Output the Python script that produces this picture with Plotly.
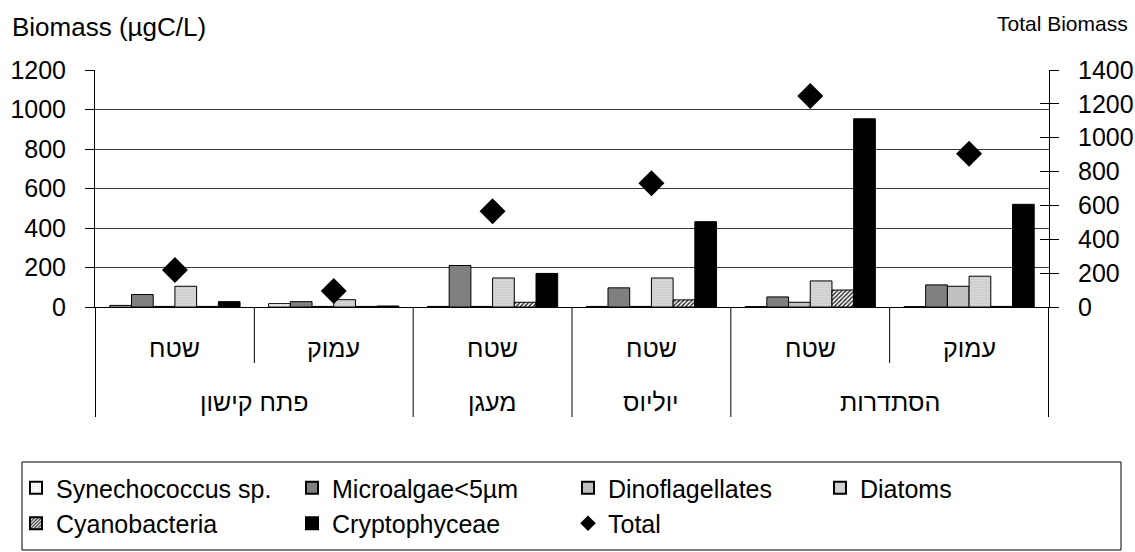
import plotly.graph_objects as go

# Sampling sites (lower label row) and depth of each sample (upper label row)
sites = ["פתח קישון", "פתח קישון", "מעגן", "יוליוס", "הסתדרות", "הסתדרות"]
depths = ["שטח", "עמוק", "שטח", "שטח", "שטח", "עמוק"]

# Biomass per sample, µgC/L
synechococcus = [8, 17, 3, 3, 2, 2]
microalgae = [63, 27, 210, 97, 51, 112]
dinoflagellates = [3, 3, 3, 3, 24, 105]
diatoms = [105, 37, 147, 147, 132, 156]
cyanobacteria = [3, 3, 24, 36, 86, 3]
cryptophyceae = [27, 5, 170, 432, 953, 520]
total = [218, 95, 565, 731, 1246, 906]

left_ticks = [0, 200, 400, 600, 800, 1000, 1200]
right_ticks = [0, 200, 400, 600, 800, 1000, 1200, 1400]

FONT = "Liberation Sans, Arial, sans-serif"
W, H = 1135, 552
L, R, T, B = 95, 86, 70, 245
pw, ph = W - L - R, H - T - B


def px_x(x):
    return (x - L) / pw


def px_y(y):
    return (H - B - y) / ph


# one category key per sample; the two label rows are drawn below the axis
keys = [f"{s} {d}" for s, d in zip(sites, depths)]
line = dict(color="black", width=1)

fig = go.Figure()
fig.add_bar(x=keys, y=synechococcus, name="Synechococcus sp.", legend="legend",
            marker=dict(color="white", line=line,
                        pattern=dict(shape=".", fgcolor="#d0d0d0", bgcolor="white",
                                     size=3, solidity=0.2)))
fig.add_bar(x=keys, y=microalgae, name="Microalgae<5µm", legend="legend2",
            marker=dict(color="#808080", line=line))
fig.add_bar(x=keys, y=dinoflagellates, name="Dinoflagellates", legend="legend3",
            marker=dict(color="#c0c0c0", line=line))
fig.add_bar(x=keys, y=diatoms, name="Diatoms", legend="legend4",
            marker=dict(color="#f0f0f0", line=line,
                        pattern=dict(shape=".", fgcolor="#707070", bgcolor="#f0f0f0",
                                     size=2, solidity=0.3)))
fig.add_bar(x=keys, y=cyanobacteria, name="Cyanobacteria", legend="legend",
            marker=dict(color="white", line=line,
                        pattern=dict(shape="/", fgcolor="#202020", bgcolor="white",
                                     size=3, solidity=0.45)))
fig.add_bar(x=keys, y=cryptophyceae, name="Cryptophyceae", legend="legend2",
            marker=dict(color="black", line=line))
fig.add_scatter(x=keys, y=total, name="Total", mode="markers", yaxis="y2",
                legend="legend3",
                marker=dict(symbol="diamond", size=20, color="black",
                            line=dict(width=0)))
# tick-only companion of the right axis (ticks crossing the axis line)
fig.add_scatter(x=keys[:1], y=[None], yaxis="y3", showlegend=False,
                hoverinfo="skip")

# Category separators and the two rows of labels under the x axis
shapes = []
annotations = []
n = len(keys)
for i in range(n + 1):
    edge = i == 0 or i == n or sites[i - 1] != sites[i]
    shapes.append(dict(type="line", xref="x", yref="paper",
                       x0=i - 0.5, x1=i - 0.5, y0=0,
                       y1=px_y(417 if edge else 363),
                       line=dict(color="black", width=1)))
for i, d in enumerate(depths):
    annotations.append(dict(text=d, xref="x", yref="paper", x=i, y=px_y(348),
                            showarrow=False, xanchor="center", yanchor="middle",
                            font=dict(size=25)))
start = 0
for i in range(1, n + 1):
    if i == n or sites[i] != sites[start]:
        annotations.append(dict(text=sites[start], xref="x", yref="paper",
                                x=(start + i - 1) / 2, y=px_y(402),
                                showarrow=False, xanchor="center",
                                yanchor="middle", font=dict(size=25)))
        start = i

# legend frame
shapes.append(dict(type="rect", xref="paper", yref="paper",
                   x0=px_x(22), x1=px_x(1121), y0=px_y(462), y1=px_y(550),
                   line=dict(color="black", width=1), fillcolor="rgba(0,0,0,0)"))

annotations += [
    dict(text="Biomass (µgC/L)", xref="paper", yref="paper",
         x=px_x(10), y=px_y(27), xanchor="left", yanchor="middle",
         showarrow=False, font=dict(size=26)),
    dict(text="Total Biomass", xref="paper", yref="paper",
         x=px_x(1130), y=px_y(24), xanchor="right", yanchor="middle",
         showarrow=False, font=dict(size=21)),
]


def legend_column(left_px):
    return dict(orientation="v", x=px_x(left_px), y=px_y(465),
                xanchor="left", yanchor="top", borderwidth=0,
                bgcolor="rgba(0,0,0,0)", itemsizing="constant",
                traceorder="normal", font=dict(family=FONT, size=25))


fig.update_layout(
    template="none",
    width=W, height=H,
    margin=dict(l=L, r=R, t=T, b=B, autoexpand=False),
    paper_bgcolor="white", plot_bgcolor="white",
    font=dict(family=FONT, size=25, color="black"),
    barmode="group", bargap=0.18, bargroupgap=0,
    showlegend=True,
    legend=legend_column(16),
    legend2=legend_column(292),
    legend3=legend_column(568),
    legend4=legend_column(820),
    xaxis=dict(type="category", showline=True, linecolor="black",
               linewidth=1, ticks="", showticklabels=False,
               showgrid=False, zeroline=False, automargin=False),
    yaxis=dict(range=[0, 1200], tickvals=left_ticks, showline=True,
               linecolor="black", linewidth=1, ticks="outside", ticklen=9,
               tickcolor="black", showgrid=True, gridcolor="#3a3a3a",
               gridwidth=1, zeroline=False, tickfont=dict(size=25),
               ticklabelstandoff=14, automargin=False),
    yaxis2=dict(range=[0, 1400], tickvals=right_ticks, overlaying="y",
                side="right", showline=True, linecolor="black", linewidth=1,
                ticks="outside", ticklen=9, tickcolor="black",
                showgrid=False, zeroline=False, tickfont=dict(size=25),
                ticklabelstandoff=14, automargin=False),
    yaxis3=dict(range=[0, 1400], tickvals=right_ticks, overlaying="y",
                side="right", ticks="inside", ticklen=9, tickcolor="black",
                showticklabels=False, showgrid=False, zeroline=False,
                showline=False, automargin=False),
    shapes=shapes,
    annotations=annotations,
)

fig.write_html("out.html")
